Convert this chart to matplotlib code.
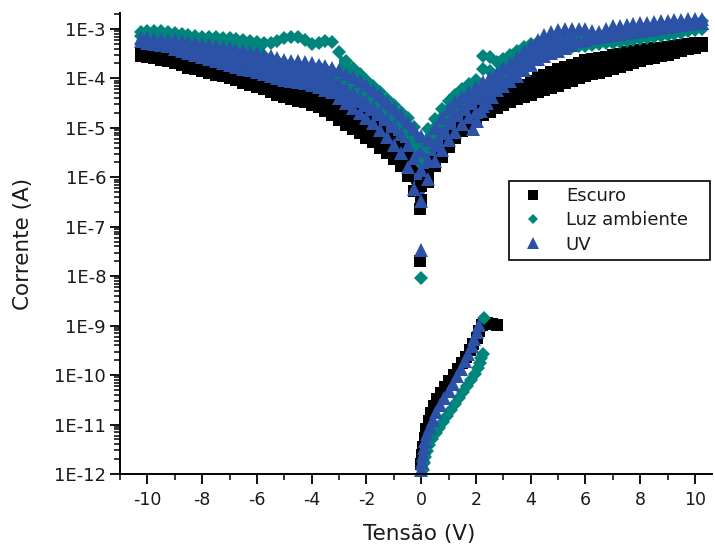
import numpy as np
import matplotlib
matplotlib.use("Agg")
import matplotlib.pyplot as plt
from matplotlib.lines import Line2D
from matplotlib.ticker import FixedLocator, FixedFormatter, LogLocator, NullFormatter

# ---------------- data ----------------
series_names = ["Escuro", "Luz ambiente", "UV"]

# voltage set points of the two main sweeps (V)
voltage = [-10.25, -10.0, -9.75, -9.5, -9.25, -9.0, -8.75, -8.5, -8.25, -8.0,
           -7.75, -7.5, -7.25, -7.0, -6.75, -6.5, -6.25, -6.0, -5.75, -5.5,
           -5.25, -5.0, -4.75, -4.5, -4.25, -4.0, -3.75, -3.5, -3.25, -3.0,
           -2.75, -2.5, -2.25, -2.0, -1.75, -1.5, -1.25, -1.0, -0.75, -0.5,
           -0.25, 0.0, 0.25, 0.5, 0.75, 1.0, 1.25, 1.5, 1.75, 2.0,
           2.25, 2.5, 2.75, 3.0, 3.25, 3.5, 3.75, 4.0, 4.25, 4.5,
           4.75, 5.0, 5.25, 5.5, 5.75, 6.0, 6.25, 6.5, 6.75, 7.0,
           7.25, 7.5, 7.75, 8.0, 8.25, 8.5, 8.75, 9.0, 9.25, 9.5,
           9.75, 10.0, 10.25]

# log10 of current (A)
escuro_log_a = [-3.47, -3.49, -3.51, -3.53, -3.56, -3.59, -3.63, -3.67, -3.71, -3.75,
                -3.78, -3.82, -3.85, -3.88, -3.91, -3.94, -3.98, -4.02, -4.06, -4.10,
                -4.14, -4.18, -4.21, -4.24, -4.27, -4.30, -4.37, -4.44, -4.51, -4.58,
                -4.65, -4.72, -4.80, -4.88, -4.98, -5.09, -5.19, -5.29, -5.42, -5.57,
                -5.80, -6.17, -5.95, -5.70, -5.50, -5.30, -5.13, -4.98, -4.85, -4.74,
                -4.64, -4.52, -4.42, -4.34, -4.27, -4.20, -4.13, -4.06, -4.00, -3.94,
                -3.88, -3.82, -3.77, -3.73, -3.68, -3.63, -3.61, -3.59, -3.56, -3.53,
                -3.50, -3.47, -3.45, -3.43, -3.41, -3.39, -3.38, -3.37, -3.35, -3.33,
                -3.31, -3.29, -3.28]
escuro_log_b = [-3.55, -3.57, -3.59, -3.62, -3.65, -3.69, -3.73, -3.78, -3.82, -3.86,
                -3.90, -3.93, -3.96, -4.00, -4.04, -4.09, -4.14, -4.18, -4.22, -4.28,
                -4.34, -4.38, -4.42, -4.45, -4.48, -4.53, -4.58, -4.66, -4.74, -4.84,
                -4.94, -5.02, -5.11, -5.20, -5.29, -5.40, -5.51, -5.63, -5.77, -5.98,
                -6.27, -6.45, -6.10, -5.78, -5.58, -5.39, -5.21, -5.06, -4.93, -4.81,
                -4.74, -4.68, -4.60, -4.53, -4.47, -4.42, -4.38, -4.33, -4.28, -4.24,
                -4.20, -4.15, -4.10, -4.05, -4.00, -3.96, -3.92, -3.89, -3.86, -3.81,
                -3.77, -3.73, -3.69, -3.65, -3.61, -3.58, -3.55, -3.52, -3.49, -3.45,
                -3.41, -3.38, -3.35]

luz_log_a = [-3.07, -3.05, -3.04, -3.05, -3.07, -3.09, -3.11, -3.13, -3.15, -3.17,
             -3.16, -3.17, -3.18, -3.19, -3.21, -3.23, -3.25, -3.27, -3.28, -3.29,
             -3.24, -3.19, -3.16, -3.17, -3.23, -3.31, -3.29, -3.25, -3.27, -3.47,
             -3.64, -3.80, -3.92, -4.04, -4.16, -4.28, -4.41, -4.54, -4.67, -4.80,
             -4.98, -5.27, -5.02, -4.82, -4.62, -4.46, -4.33, -4.22, -4.12, -4.04,
             -3.55, -3.57, -3.66, -3.60, -3.52, -3.44, -3.37, -3.31, -3.27, -3.24,
             -3.22, -3.20, -3.19, -3.18, -3.17, -3.16, -3.14, -3.12, -3.10, -3.08,
             -3.07, -3.05, -3.04, -3.02, -3.00, -2.98, -2.96, -2.94, -2.92, -2.89,
             -2.87, -2.85, -2.83]
luz_log_b = [-3.15, -3.17, -3.19, -3.20, -3.21, -3.24, -3.27, -3.28, -3.29, -3.31,
             -3.33, -3.35, -3.37, -3.40, -3.43, -3.45, -3.47, -3.51, -3.55, -3.60,
             -3.65, -3.68, -3.71, -3.73, -3.75, -3.76, -3.77, -3.81, -3.86, -3.96,
             -4.06, -4.18, -4.30, -4.42, -4.54, -4.67, -4.80, -4.93, -5.07, -5.20,
             -5.37, -5.73, -5.40, -5.12, -4.90, -4.72, -4.58, -4.46, -4.36, -4.27,
             -3.82, -3.85, -4.02, -3.94, -3.86, -3.77, -3.69, -3.62, -3.55, -3.49,
             -3.43, -3.40, -3.37, -3.36, -3.35, -3.34, -3.33, -3.31, -3.29, -3.28,
             -3.27, -3.25, -3.23, -3.21, -3.19, -3.17, -3.15, -3.13, -3.11, -3.08,
             -3.05, -3.03, -3.01]

uv_log_a = [-3.18, -3.19, -3.20, -3.21, -3.22, -3.23, -3.25, -3.27, -3.29, -3.31,
            -3.33, -3.35, -3.37, -3.39, -3.42, -3.45, -3.47, -3.49, -3.52, -3.55,
            -3.59, -3.63, -3.64, -3.65, -3.67, -3.69, -3.72, -3.75, -3.79, -3.84,
            -3.91, -3.98, -4.06, -4.14, -4.24, -4.34, -4.47, -4.60, -4.74, -4.88,
            -5.02, -5.17, -5.25, -5.00, -4.80, -4.62, -4.48, -4.37, -4.27, -4.17,
            -4.07, -3.97, -3.89, -3.80, -3.70, -3.58, -3.45, -3.33, -3.22, -3.13,
            -3.07, -3.03, -3.01, -3.01, -3.00, -3.01, -3.04, -3.07, -3.00, -2.95,
            -2.94, -2.93, -2.91, -2.89, -2.87, -2.85, -2.84, -2.83, -2.82, -2.81,
            -2.80, -2.79, -2.79]
uv_log_b = [-3.25, -3.28, -3.31, -3.33, -3.35, -3.40, -3.45, -3.49, -3.53, -3.57,
            -3.61, -3.65, -3.69, -3.73, -3.77, -3.81, -3.84, -3.88, -3.92, -3.96,
            -4.00, -4.03, -4.06, -4.08, -4.10, -4.14, -4.18, -4.23, -4.28, -4.39,
            -4.50, -4.60, -4.70, -4.80, -4.90, -5.05, -5.19, -5.35, -5.51, -5.80,
            -6.23, -6.48, -6.03, -5.68, -5.45, -5.25, -5.08, -4.92, -4.78, -4.68,
            -4.55, -4.35, -4.24, -4.16, -4.06, -3.95, -3.83, -3.72, -3.61, -3.55,
            -3.49, -3.44, -3.39, -3.32, -3.25, -3.22, -3.19, -3.17, -3.15, -3.13,
            -3.11, -3.09, -3.07, -3.05, -3.03, -3.01, -2.99, -2.97, -2.95, -2.93,
            -2.91, -2.89, -2.87]

# third UV sweep (covers the middle of the UV band)
uv_voltage_c = [-7.0, -6.75, -6.5, -6.25, -6.0, -5.75, -5.5, -5.25, -5.0, -4.75,
                -4.5, -4.25, -4.0, -3.75, -3.5, -3.25, -3.0, -2.75, -2.5, -2.25,
                -2.0, -1.75, -1.5, -1.25, -1.0, -0.75, -0.5, -0.25, 0.0, 0.25,
                0.5, 0.75, 1.0, 1.25, 1.5, 1.75, 2.0, 2.25, 2.5, 2.75,
                3.0, 3.25, 3.5, 3.75, 4.0, 4.25, 4.5, 4.75, 5.0, 5.25,
                5.5]
uv_log_c = [-3.56, -3.60, -3.63, -3.66, -3.69, -3.72, -3.76, -3.80, -3.83, -3.85,
            -3.87, -3.89, -3.92, -3.95, -3.99, -4.04, -4.12, -4.21, -4.29, -4.38,
            -4.47, -4.57, -4.69, -4.83, -4.97, -5.13, -5.34, -5.62, -5.85, -5.65,
            -5.35, -5.10, -4.90, -4.74, -4.61, -4.50, -4.40, -4.30, -4.20, -4.12,
            -4.04, -3.93, -3.80, -3.66, -3.53, -3.42, -3.34, -3.28, -3.23, -3.20,
            -3.17]

# low-current branch (0 V to ~2.8 V)
escuro_low_v = [0.00, 0.04, 0.08, 0.13, 0.19, 0.27, 0.36, 0.46, 0.58, 0.71, 0.86, 1.02,
                1.18, 1.34, 1.49, 1.63, 1.77, 1.90, 2.02, 2.12, 2.22, 2.40, 2.58, 2.75]
escuro_low_log = [-11.80, -11.62, -11.45, -11.28, -11.10, -10.92, -10.76, -10.62, -10.48,
                  -10.36, -10.24, -10.12, -10.00, -9.88, -9.76, -9.63, -9.50, -9.37,
                  -9.24, -9.10, -8.98, -8.95, -8.97, -8.98]
luz_low_v = [0.05, 0.09, 0.14, 0.21, 0.30, 0.41, 0.53, 0.66, 0.80, 0.94, 1.09, 1.24,
             1.39, 1.54, 1.68, 1.82, 1.95, 2.06, 2.14, 2.20, 2.24, 2.30]
luz_low_log = [-11.92, -11.78, -11.66, -11.54, -11.42, -11.30, -11.18, -11.06, -10.94,
               -10.82, -10.70, -10.58, -10.46, -10.34, -10.22, -10.10, -9.98, -9.86,
               -9.76, -9.66, -9.58, -8.84]
uv_low_v = [0.00, 0.03, 0.06, 0.10, 0.15, 0.22, 0.31, 0.42, 0.55, 0.69, 0.84, 1.00,
            1.15, 1.30, 1.45, 1.59, 1.72, 1.84, 1.94, 2.03, 2.10]
uv_low_log = [-11.92, -11.76, -11.62, -11.48, -11.34, -11.19, -11.05, -10.90, -10.75,
              -10.60, -10.46, -10.32, -10.17, -10.02, -9.87, -9.72, -9.57, -9.42,
              -9.27, -9.12, -8.98]

# isolated points (near 0 V and the UV transition at ~2 V)
escuro_extra_v = [-0.05, -0.05]
escuro_extra_log = [-6.64, -7.69]
luz_extra_v = [0.0]
luz_extra_log = [-8.03]
uv_extra_v = [0.0, 1.90, 2.05, 2.20, 2.40, 2.60]
uv_extra_log = [-7.48, -5.02, -4.86, -4.66, -4.50, -4.38]

ytick_values = [1e-12, 1e-11, 1e-10, 1e-9, 1e-8, 1e-7, 1e-6, 1e-5, 1e-4, 1e-3]
ytick_labels = ["1E-12", "1E-11", "1E-10", "1E-9", "1E-8", "1E-7", "1E-6",
                "1E-5", "1E-4", "1E-3"]
xtick_values = [-10, -8, -6, -4, -2, 0, 2, 4, 6, 8, 10]

# ---------------- drawing ----------------
plt.rcParams['font.family'] = ['DejaVu Sans']
plt.rcParams['axes.unicode_minus'] = False

TXT = '#1a1a1a'
BLACK, TEAL, BLUE = '#000000', '#00857d', '#2c52a8'
# marker, size in plot, size in legend, colour
MK = {"Escuro": ('s', 8.4, 7.2, BLACK),
      "Luz ambiente": ('D', 6.8, 5.6, TEAL),
      "UV": ('^', 10.5, 9.0, BLUE)}

fig = plt.figure(figsize=(7.15, 5.47), dpi=100)
ax = fig.add_axes([120 / 715, 73 / 547, 592 / 715, 461 / 547])
ax.set_yscale('log')

V = np.asarray(voltage)


def cur(logs):
    return np.power(10.0, np.asarray(logs, dtype=float))


def draw(name, xs, logs):
    m, s, _, c = MK[name]
    ax.plot(xs, cur(logs), linestyle='none', marker=m, markersize=s,
            color=c, markeredgewidth=0, clip_on=False)


def band(name, la, lb, where=None):
    # dense measurement cloud between the two recorded sweeps
    ax.fill_between(V, cur(la), cur(lb), where=where, color=MK[name][3],
                    linewidth=0, interpolate=False)


band("Escuro", escuro_log_a, escuro_log_b)
draw("Escuro", voltage, escuro_log_a)
draw("Escuro", voltage, escuro_log_b)
draw("Escuro", escuro_low_v, escuro_low_log)
draw("Escuro", escuro_extra_v, escuro_extra_log)

luz_band = ~(((V > -5.6) & (V < -3.0)) | ((V > 2.0) & (V < 2.75)))
band("Luz ambiente", luz_log_a, luz_log_b, where=luz_band)
draw("Luz ambiente", voltage, luz_log_a)
draw("Luz ambiente", voltage, luz_log_b)
draw("Luz ambiente", luz_low_v, luz_low_log)
draw("Luz ambiente", luz_extra_v, luz_extra_log)

band("UV", uv_log_a, uv_log_b)
draw("UV", voltage, uv_log_a)
draw("UV", voltage, uv_log_b)
draw("UV", uv_voltage_c, uv_log_c)
draw("UV", uv_low_v, uv_low_log)
draw("UV", uv_extra_v, uv_extra_log)

ax.set_xlim(-11, 10.62)
ax.set_ylim(1e-12, 2.1e-3)

ax.spines['top'].set_visible(False)
ax.spines['right'].set_visible(False)
for sp in ('left', 'bottom'):
    ax.spines[sp].set_linewidth(1.4)

ax.yaxis.set_major_locator(FixedLocator(ytick_values))
ax.yaxis.set_major_formatter(FixedFormatter(ytick_labels))
ax.yaxis.set_minor_locator(LogLocator(base=10, subs=np.arange(2, 10), numticks=30))
ax.yaxis.set_minor_formatter(NullFormatter())
ax.xaxis.set_major_locator(FixedLocator(xtick_values))
ax.xaxis.set_major_formatter(FixedFormatter([str(v) for v in xtick_values]))
ax.xaxis.set_minor_locator(FixedLocator([-11, -9, -7, -5, -3, -1, 1, 3, 5, 7, 9]))

ax.tick_params(axis='both', which='major', direction='out', length=7, width=1.3,
               labelsize=12.5, labelcolor=TXT)
ax.tick_params(axis='y', which='major', labelsize=13, pad=3)
ax.tick_params(axis='both', which='minor', direction='out', length=4, width=1.1)
ax.tick_params(axis='x', which='major', pad=5)

ax.set_xlabel("Tensão (V)", fontsize=15.5, color=TXT)
ax.set_ylabel("Corrente (A)", fontsize=15.5, color=TXT)
ax.xaxis.set_label_coords(0.505, -0.108)
ax.yaxis.set_label_coords(-0.147, 0.5)

handles = [Line2D([], [], linestyle='none', marker=MK[n][0], markersize=MK[n][2],
                  color=MK[n][3], markeredgewidth=0) for n in series_names]
leg = ax.legend(handles, series_names, loc='upper left',
                bbox_to_anchor=(0.657, 0.458, 0.34, 0.178), mode='expand',
                borderaxespad=0, frameon=True, fancybox=False, edgecolor='black',
                framealpha=1, fontsize=13, handlelength=2.0, handletextpad=0.8,
                labelspacing=0.35, borderpad=0.35, numpoints=1)
leg.get_frame().set_linewidth(1.2)
for t in leg.get_texts():
    t.set_color(TXT)

fig.savefig("out.png", dpi=100)
